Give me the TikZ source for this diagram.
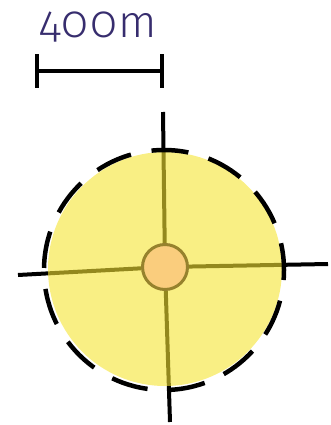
\documentclass[tikz,border=0pt]{standalone}
\usepackage{fontspec}
\usepackage{xcolor}
\usepackage{tikz}
\usetikzlibrary{backgrounds}
\newfontfamily\scalefont[Numbers=OldStyle, LetterSpace=3]{Fira Sans Light}
\definecolor{zonefill}{RGB}{245,228,50}
\definecolor{sitefill}{RGB}{250,205,125}
\definecolor{siteedge}{RGB}{150,130,45}
\definecolor{labelink}{RGB}{55,45,110}

\begin{document}
\begin{tikzpicture}[
  x=1pt, y=-1pt,
  bar/.style={line width=3.5pt, black},
  axis/.style={line width=4pt, black},
  zone/.style={line width=4.5pt, black, dash pattern=on 37pt off 21pt,
               dash phase=10pt},
  site/.style={circle, draw=siteedge, fill=sitefill, line width=3pt,
               minimum size=45pt, inner sep=0pt}
]
\useasboundingbox (0,0) rectangle (331,425);

% ---- scale bar ----
\node[anchor=base west, inner sep=0pt, text=labelink,
      font=\scalefont\fontsize{45}{45}\selectfont] (lbl) at (39,38) {400m};
\coordinate (barl) at (37,71);
\coordinate (barr) at (162,71);
\draw[bar] (barl) -- (barr);
\draw[bar] ([yshift=-17pt]barl) -- ([yshift=17pt]barl);
\draw[bar] ([yshift=-17pt]barr) -- ([yshift=17pt]barr);

% ---- site and its crosshair ----
\node[site] (site) at (165,267) {};
\coordinate (top) at (163,112);
\coordinate (bot) at (170,422);
\coordinate (lft) at (18,275);
\coordinate (rgt) at (328,264);

\begin{scope}[on background layer]
  \draw[axis] (site) -- (top);
  \draw[axis] (site) -- (bot);
  \draw[axis] (site) -- (lft);
  \draw[axis] (site) -- (rgt);
  \fill[zonefill, opacity=0.6] (165,269) circle[radius=117pt];
\end{scope}

% ---- 400m zone ----
\draw[zone] (164,270) circle[radius=120pt];

\end{tikzpicture}
\end{document}
